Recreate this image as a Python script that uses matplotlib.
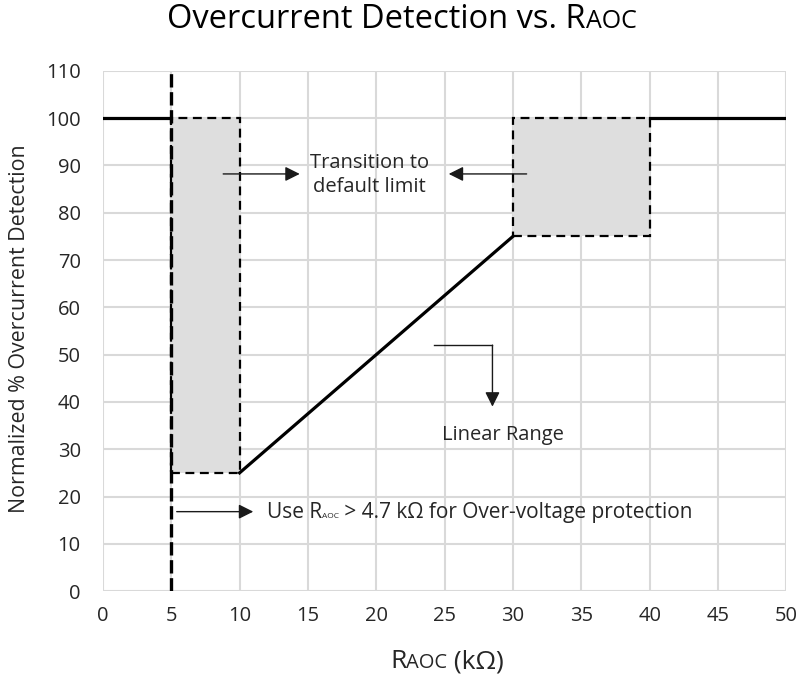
#!/usr/bin/env python3

import matplotlib
matplotlib.use('Agg')
import matplotlib.pyplot as plt
from matplotlib.patches import Rectangle
from matplotlib.offsetbox import TextArea, HPacker, AnchoredOffsetbox, AnnotationBbox

plt.rcParams['font.family'] = ['Open Sans', 'DejaVu Sans']

# main detection curve (kOhm, %)
curve_low_x = [0, 5]
curve_low_y = [100, 100]
linear_x = [10, 30]
linear_y = [25, 75]
curve_high_x = [40, 50]
curve_high_y = [100, 100]

# transition boxes: (x0, x1, y0, y1)
box_left = (5, 10, 25, 100)
box_right = (30, 40, 75, 100)

ovp_limit = 5

x_ticks = list(range(0, 55, 5))
y_ticks = list(range(0, 120, 10))

txt_col = '#262626'
arrow_col = '#1a1a1a'


def small_caps(parts, color=txt_col):
    # parts: list of (text, size) packed on a common baseline
    kids = [TextArea(t, textprops=dict(size=s, color=color)) for t, s in parts]
    return HPacker(children=kids, align='baseline', pad=0, sep=0)


fig = plt.figure(figsize=(8.04, 6.81), dpi=100)
ax = fig.add_axes([0.128, 0.132, 0.850, 0.764])

ax.set_xlim(0, 50)
ax.set_ylim(0, 110)
ax.set_xticks(x_ticks)
ax.set_yticks(y_ticks)
ax.tick_params(length=0, labelsize=14.5, colors=txt_col)
ax.tick_params(axis='x', pad=11)
ax.tick_params(axis='y', pad=16)
ax.grid(True, color='#d9d9d9', linewidth=1.5)
ax.set_axisbelow(True)
for s in ax.spines.values():
    s.set_visible(False)

for b in (box_left, box_right):
    x0, x1, y0, y1 = b
    ax.add_patch(Rectangle((x0, y0), x1 - x0, y1 - y0, facecolor='#dedede',
                           edgecolor='black', linewidth=1.6,
                           linestyle=(0, (4, 2.5)), zorder=2))

ax.plot(curve_low_x, curve_low_y, color='black', lw=2.3, zorder=3)
ax.plot(linear_x, linear_y, color='black', lw=2.3, zorder=3)
ax.plot(curve_high_x, curve_high_y, color='black', lw=2.3, zorder=3)
ax.plot([ovp_limit, ovp_limit], [0, 110], color='black', lw=2.4,
        linestyle=(0, (4, 1.4)), zorder=4)

aprops = dict(arrowstyle='-|>', color=arrow_col, lw=1.0, mutation_scale=22,
              shrinkA=0, shrinkB=0)
ax.annotate('', xy=(14.4, 88.2), xytext=(8.8, 88.2), arrowprops=aprops, zorder=5)
ax.annotate('', xy=(25.3, 88.2), xytext=(31.0, 88.2), arrowprops=aprops, zorder=5)
ax.text(19.5, 88, 'Transition to\ndefault limit', fontsize=14.5, color=txt_col,
        ha='center', va='center', linespacing=1.3, zorder=6)

# elbow arrow to "Linear Range"
ax.plot([24.2, 28.5], [52, 52], color=arrow_col, lw=1.0, zorder=5)
ax.annotate('', xy=(28.5, 39.0), xytext=(28.5, 52), arrowprops=aprops, zorder=5)
ax.text(29.3, 33.0, 'Linear Range', fontsize=14.5, color=txt_col,
        ha='center', va='center', zorder=6)

ax.annotate('', xy=(11.0, 16.8), xytext=(5.4, 16.8), arrowprops=aprops, zorder=5)
ovp = small_caps([('Use R', 15), ('AOC', 6),
                  (' > 4.7 k\u03a9 for Over-voltage protection', 15)])
ax.add_artist(AnnotationBbox(ovp, (12.0, 16.6), xycoords='data',
                             box_alignment=(0, 0.5), frameon=False, pad=0))

# title with small caps
title = small_caps([('Overcurrent Detection vs. R', 23.5), ('AOC', 18)], color='black')
fig.add_artist(AnchoredOffsetbox(loc='center', child=title, frameon=False,
                                 bbox_to_anchor=(0.5, 1 - 20 / 681),
                                 bbox_transform=fig.transFigure, borderpad=0, pad=0))

xl = small_caps([('R', 19), ('AOC', 14.5), (' (k\u03a9)', 19)])
fig.add_artist(AnchoredOffsetbox(loc='center', child=xl, frameon=False,
                                 bbox_to_anchor=(0.556, 1 - 662 / 681),
                                 bbox_transform=fig.transFigure, borderpad=0, pad=0))

ax.set_ylabel('Normalized % Overcurrent Detection', fontsize=15.4, color=txt_col)
ax.yaxis.set_label_coords(-0.106, 0.505)

fig.savefig('out.png', dpi=100)
